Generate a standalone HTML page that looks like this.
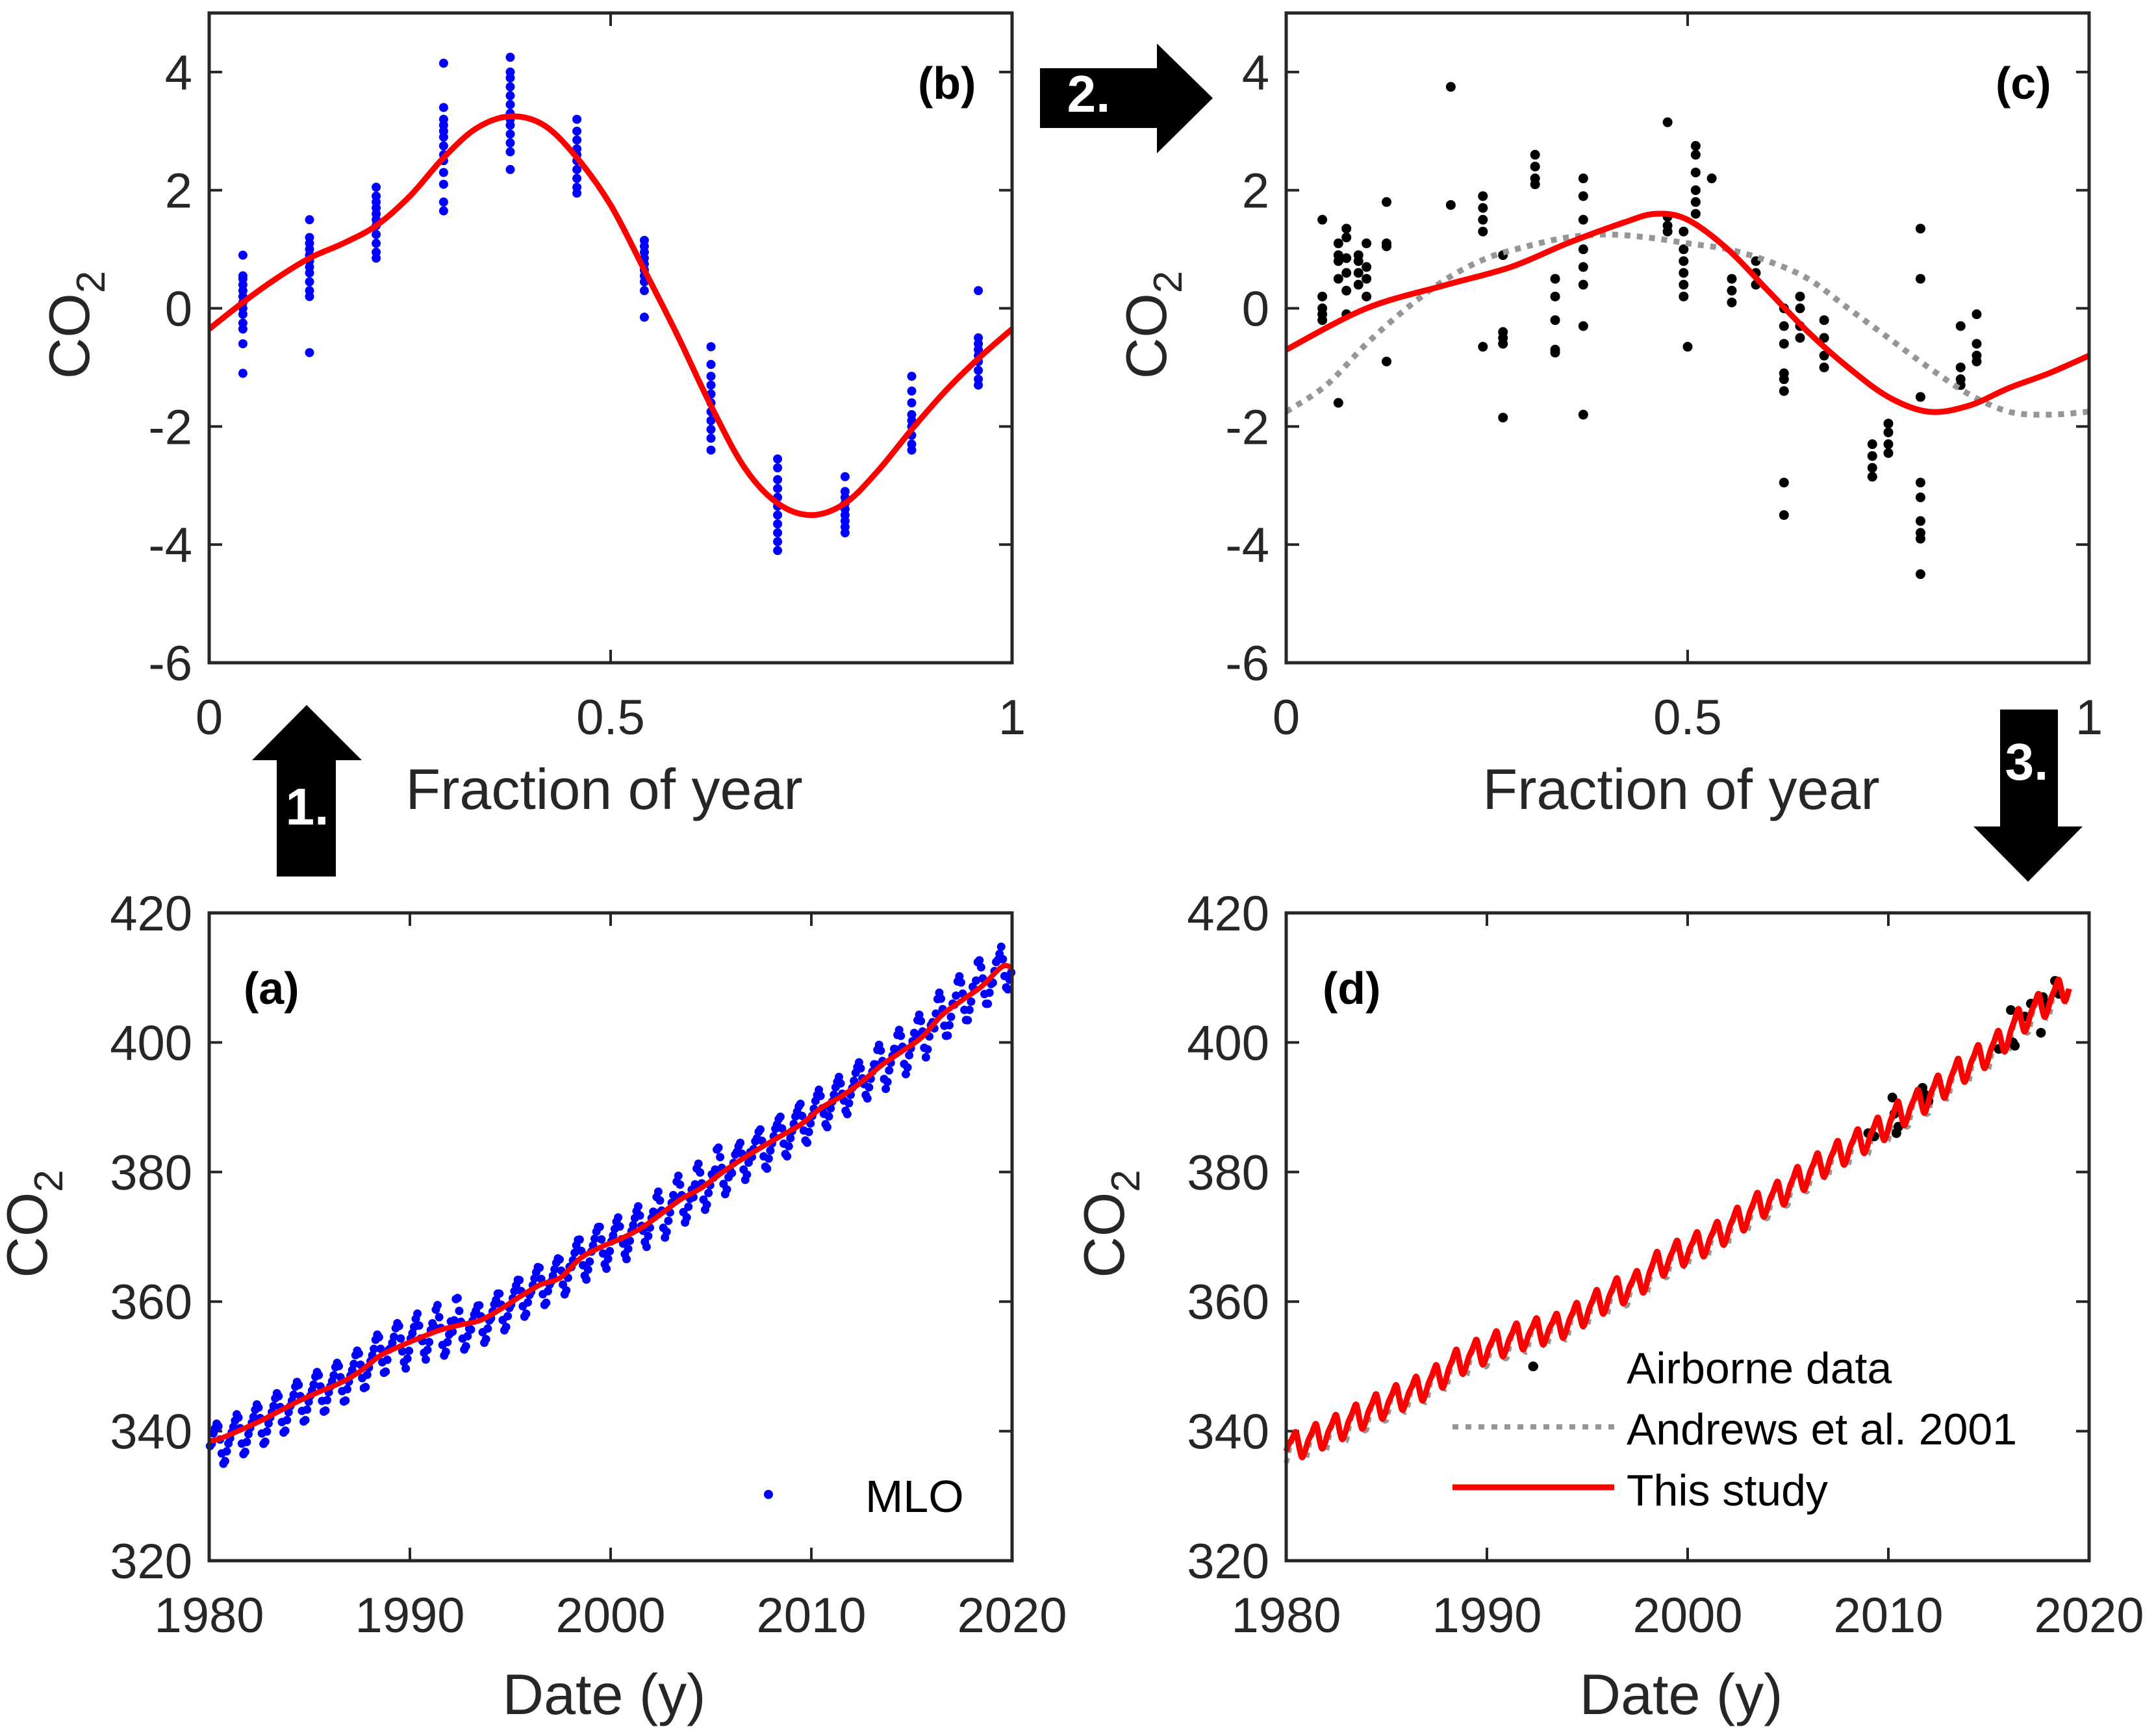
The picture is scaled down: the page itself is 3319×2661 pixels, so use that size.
<!DOCTYPE html>
<html><head><meta charset="utf-8"><title>CO2 seasonal cycle figure</title>
<style>
html,body{margin:0;padding:0;background:#fff;}
svg{display:block;font-family:"Liberation Sans",Arial,sans-serif;}
</style></head>
<body>
<svg id="fig" width="3319" height="2661" viewBox="0 0 3319 2661" xmlns="http://www.w3.org/2000/svg">
  <g>
    <polygon points="472,1085 557,1170 517,1170 517,1349 426,1349 426,1170 388,1170" fill="#000"/>
    <text x="473" y="1269" font-size="80" font-weight="bold" fill="#fff" text-anchor="middle">1.</text>
  </g>
  <g>
    <polygon points="1867,151 1781,67 1781,105 1601,105 1601,197 1781,197 1781,236" fill="#000"/>
    <text x="1676" y="172" font-size="80" font-weight="bold" fill="#fff" text-anchor="middle">2.</text>
  </g>
  <g>
    <polygon points="3122,1357 3206,1272 3168,1272 3168,1092 3079,1092 3079,1272 3038,1272" fill="#000"/>
    <text x="3120" y="1200" font-size="80" font-weight="bold" fill="#fff" text-anchor="middle">3.</text>
  </g>
</svg>
<script>
// ---------------- data ----------------
const monthCenters = [0.042,0.125,0.208,0.292,0.375,0.458,0.542,0.625,0.708,0.792,0.875,0.958];
const mloMonthValues = [
  [-1.1,-0.6,-0.35,-0.25,-0.1,0,0.1,0.2,0.3,0.4,0.5,0.55,0.9],
  [-0.75,0.2,0.3,0.45,0.6,0.7,0.8,0.9,1.0,1.1,1.2,1.5],
  [0.85,0.95,1.1,1.25,1.4,1.5,1.6,1.7,1.8,1.9,2.05],
  [1.65,1.8,2.1,2.3,2.5,2.6,2.75,2.9,3.0,3.1,3.2,3.4,4.15],
  [2.35,2.65,2.8,2.95,3.1,3.2,3.3,3.45,3.6,3.75,3.9,4.0,4.25],
  [1.95,2.05,2.2,2.35,2.5,2.6,2.7,2.85,3.0,3.2],
  [-0.15,0.3,0.45,0.55,0.65,0.75,0.85,0.95,1.05,1.15],
  [-2.4,-2.2,-2.05,-1.9,-1.75,-1.6,-1.45,-1.3,-1.15,-0.95,-0.65],
  [-4.1,-3.95,-3.8,-3.65,-3.5,-3.35,-3.2,-3.05,-2.9,-2.7,-2.55],
  [-3.8,-3.7,-3.6,-3.5,-3.4,-3.3,-3.2,-3.1,-2.85],
  [-2.4,-2.3,-2.15,-2.0,-1.9,-1.8,-1.6,-1.4,-1.15],
  [-1.3,-1.2,-1.05,-0.9,-0.8,-0.7,-0.6,-0.5,0.3]
];
const fitBX = [0,0.042,0.083,0.125,0.167,0.208,0.25,0.292,0.333,0.375,0.417,0.458,0.5,0.542,0.583,0.625,0.667,0.708,0.75,0.792,0.833,0.875,0.917,0.958,1];
const fitBY = [-0.35,0.1,0.5,0.85,1.1,1.4,1.9,2.55,3.05,3.25,3.1,2.55,1.75,0.65,-0.45,-1.65,-2.7,-3.3,-3.5,-3.3,-2.75,-2.05,-1.4,-0.85,-0.35];

const airX = [0.045,0.045,0.045,0.045,0.045,0.065,0.065,0.065,0.065,0.065,0.075,0.075,0.075,0.075,0.075,0.075,0.09,0.09,0.09,0.09,0.1,0.1,0.1,0.1,0.125,0.125,0.125,0.125,0.205,0.205,0.245,0.245,0.245,0.245,0.245,0.27,0.27,0.27,0.27,0.27,0.31,0.31,0.31,0.31,0.335,0.335,0.335,0.335,0.335,0.37,0.37,0.37,0.37,0.37,0.37,0.37,0.37,0.475,0.475,0.475,0.475,0.495,0.495,0.495,0.495,0.495,0.495,0.5,0.51,0.51,0.51,0.51,0.51,0.51,0.53,0.555,0.555,0.555,0.585,0.585,0.585,0.62,0.62,0.62,0.62,0.62,0.62,0.62,0.62,0.64,0.64,0.64,0.64,0.67,0.67,0.67,0.67,0.73,0.73,0.73,0.73,0.75,0.75,0.75,0.75,0.79,0.79,0.79,0.79,0.79,0.79,0.79,0.79,0.79,0.84,0.84,0.84,0.84,0.86,0.86,0.86,0.86];
const airY = [1.5,0.2,0.0,-0.2,-0.1,0.9,1.1,0.8,0.5,-1.6,1.35,1.2,0.85,0.6,0.3,-0.1,0.9,0.6,0.4,0.8,1.1,0.7,0.5,0.2,1.8,1.1,1.05,-0.9,3.75,1.75,1.9,1.7,1.5,1.3,-0.65,0.9,-0.4,-0.5,-0.6,-1.85,2.6,2.4,2.2,2.1,0.5,0.2,-0.2,-0.7,-0.75,2.2,1.9,1.5,1.0,0.7,0.4,-0.3,-1.8,3.15,1.55,1.4,1.3,1.3,1.0,0.8,0.6,0.4,0.2,-0.65,2.75,2.6,2.3,2.0,1.8,1.6,2.2,0.5,0.3,0.1,0.8,0.6,0.4,-0.3,-0.6,-1.1,-1.2,-1.4,-2.95,-3.5,0.0,0.2,0.0,-0.3,-0.5,-0.2,-0.5,-0.8,-1.0,-2.3,-2.5,-2.7,-2.85,-1.95,-2.1,-2.3,-2.45,1.35,0.5,-1.5,-2.95,-3.2,-3.6,-3.8,-3.9,-4.5,-0.3,-1.0,-1.2,-1.3,-0.1,-0.6,-0.8,-0.9];
const fitCX = [0,0.1,0.2,0.28,0.35,0.42,0.46,0.5,0.55,0.6,0.65,0.7,0.75,0.8,0.85,0.9,0.95,1];
const fitCY = [-0.7,0.0,0.4,0.7,1.1,1.45,1.6,1.5,1.0,0.3,-0.4,-1.0,-1.5,-1.75,-1.65,-1.35,-1.1,-0.8];
const andX = [0,0.05,0.1,0.15,0.2,0.25,0.3,0.35,0.4,0.45,0.5,0.55,0.6,0.65,0.7,0.75,0.8,0.85,0.9,0.95,1];
const andY = [-1.75,-1.3,-0.6,0.0,0.5,0.85,1.05,1.2,1.25,1.2,1.1,1.0,0.8,0.5,0.0,-0.5,-1.0,-1.45,-1.75,-1.8,-1.75];

const years = [1980,1981,1982,1983,1984,1985,1986,1987,1988,1989,1990,1991,1992,1993,1994,1995,1996,1997,1998,1999,2000,2001,2002,2003,2004,2005,2006,2007,2008,2009,2010,2011,2012,2013,2014,2015,2016,2017,2018,2019];
const annualCO2 = [338.8,340.1,341.5,343.1,344.7,346.1,347.4,349.2,351.6,353.1,354.4,355.6,356.4,357.1,358.8,360.8,362.6,363.7,366.7,368.4,369.7,371.3,373.5,375.8,377.5,379.8,381.9,383.8,385.6,387.4,389.9,391.7,393.9,396.5,398.6,400.8,404.2,406.5,408.7,411.7];
const airDateD = [1992.3,2009.0,2009.3,2010.2,2010.3,2010.4,2010.5,2011.7,2011.8,2011.8,2012.0,2015.5,2016.1,2016.2,2016.3,2016.8,2017.1,2017.6,2017.7,2017.9,2018.3,2018.5];
const airCO2D = [350,386,385.5,391.5,389,386,387,393,392,390.5,391,399,405,400,399.5,404,406,401.5,407,406,409.5,407.5];

const yTicksB = [4,2,0,-2,-4,-6];
const xTicksB = [0,0.5,1];
const xTickLabelsB = ['0','0.5','1'];
const yTicksA = [420,400,380,360,340,320];
const xTicksA = [1980,1990,2000,2010,2020];

// ---------------- drawing ----------------
const NS='http://www.w3.org/2000/svg';
const svg=document.getElementById('fig');
function mk(tag,attrs,parent){const e=document.createElementNS(NS,tag);for(const k in attrs)e.setAttribute(k,attrs[k]);(parent||svg).appendChild(e);return e;}
function lin(d0,d1,r0,r1){return v=>r0+(v-d0)/(d1-d0)*(r1-r0);}
function interp(xs,ys,x){if(x<=xs[0])return ys[0];for(let i=1;i<xs.length;i++){if(x<=xs[i]){const t=(x-xs[i-1])/(xs[i]-xs[i-1]);return ys[i-1]+t*(ys[i]-ys[i-1]);}}return ys[ys.length-1];}
function smoothPath(pts){let d='M'+pts[0][0].toFixed(1)+','+pts[0][1].toFixed(1);for(let i=0;i<pts.length-1;i++){const p0=pts[i-1]||pts[i],p1=pts[i],p2=pts[i+1],p3=pts[i+2]||p2;const c1=[p1[0]+(p2[0]-p0[0])/6,p1[1]+(p2[1]-p0[1])/6],c2=[p2[0]-(p3[0]-p1[0])/6,p2[1]-(p3[1]-p1[1])/6];d+='C'+c1[0].toFixed(1)+','+c1[1].toFixed(1)+' '+c2[0].toFixed(1)+','+c2[1].toFixed(1)+' '+p2[0].toFixed(1)+','+p2[1].toFixed(1);}return d;}

const panels={
  b:{l:322,r:1558,t:20,b:1020,x0:0,x1:1,y0:-6,y1:5},
  c:{l:1980,r:3216,t:20,b:1020,x0:0,x1:1,y0:-6,y1:5},
  a:{l:322,r:1558,t:1405,b:2402,x0:1980,x1:2020,y0:320,y1:420},
  d:{l:1980,r:3216,t:1405,b:2402,x0:1980,x1:2020,y0:320,y1:420}
};
for(const k in panels){const p=panels[k];p.sx=lin(p.x0,p.x1,p.l,p.r);p.sy=lin(p.y0,p.y1,p.b,p.t);}

function axes(p,name,xt,xl,yt,xlabel,letter,ylOff){
  const g=mk('g',{});
  
  
  const TL=20;
  yt.forEach(v=>{const y=p.sy(v);
    mk('line',{x1:p.l,x2:p.l+TL,y1:y,y2:y,stroke:'#262626','stroke-width':4},g);
    mk('line',{x1:p.r,x2:p.r-TL,y1:y,y2:y,stroke:'#262626','stroke-width':4},g);
    const t=mk('text',{x:p.l-26,y:y+27,'font-size':76,fill:'#262626','text-anchor':'end'},g);
    
    
    t.textContent=String(v);});
  xt.forEach((v,i)=>{const x=p.sx(v);
    mk('line',{x1:x,x2:x,y1:p.b,y2:p.b-TL,stroke:'#262626','stroke-width':4},g);
    mk('line',{x1:x,x2:x,y1:p.t,y2:p.t+TL,stroke:'#262626','stroke-width':4},g);
    const t=mk('text',{x:x,y:p.b+110,'font-size':76,fill:'#262626','text-anchor':'middle'},g);
    
    
    t.textContent=xl[i];});
  const xa=mk('text',{x:(p.l+p.r)/2-10,y:p.b+(p.b>2000?236:225),'font-size':88,fill:'#262626','text-anchor':'middle'},g);
  
  
  xa.textContent=xlabel;
  const cy=(p.t+p.b)/2-20;
  const ya=mk('text',{x:0,y:0,'font-size':88,fill:'#262626','text-anchor':'middle',transform:'translate('+(p.l-ylOff)+','+cy+') rotate(-90)'},g);
  
  
  ya.appendChild(document.createTextNode('CO'));
  const sub=mk('tspan',{'font-size':62,dy:24},ya);sub.textContent='2';
  const pl=mk('text',{x:letter.x,y:letter.y,'font-size':70,'font-weight':'bold',fill:'#000'},g);
  
  
  pl.textContent=letter.t;
  return g;
}
function frame(p){const r=mk('rect',{x:p.l,y:p.t,width:p.r-p.l,height:p.b-p.t,fill:'none',stroke:'#262626','stroke-width':5});}

// ---- Panel b ----
(function(){const p=panels.b;
  axes(p,'panel-b',xTicksB,xTickLabelsB,yTicksB,'Fraction of year',{x:1413,y:152,t:'(b)'},185);
  const g=mk('g',{});
  monthCenters.forEach((m,i)=>mloMonthValues[i].forEach(v=>{const c=mk('circle',{cx:p.sx(m),cy:p.sy(v),r:7,fill:'#0000ff'},g);}));
  const pts=fitBX.map((x,i)=>[p.sx(x),p.sy(fitBY[i])]);
  const path=mk('path',{d:smoothPath(pts),fill:'none',stroke:'#ff0000','stroke-width':9,'stroke-linejoin':'round'});
  
  frame(p);
})();

// ---- Panel c ----
(function(){const p=panels.c;
  axes(p,'panel-c',xTicksB,xTickLabelsB,yTicksB,'Fraction of year',{x:3072,y:152,t:'(c)'},185);
  const g=mk('g',{});
  airX.forEach((x,i)=>{const c=mk('circle',{cx:p.sx(x),cy:p.sy(airY[i]),r:7.5,fill:'#000'},g);});
  const ap=mk('path',{d:smoothPath(andX.map((x,i)=>[p.sx(x),p.sy(andY[i])])),fill:'none',stroke:'#969696','stroke-width':9,'stroke-dasharray':'9 10'});
  
  const rp=mk('path',{d:smoothPath(fitCX.map((x,i)=>[p.sx(x),p.sy(fitCY[i])])),fill:'none',stroke:'#ff0000','stroke-width':9});
  
  frame(p);
})();

function trendAt(t){return interp(years.map(y=>y+0.5),annualCO2,t);}

// ---- Panel a ----
(function(){const p=panels.a;
  axes(p,'panel-a',xTicksA,xTicksA.map(String),yTicksA,'Date (y)',{x:375,y:1545,t:'(a)'},250);
  const g=mk('g',{});
  years.forEach(y=>monthCenters.forEach((m,i)=>{const t=y+m;if(t>2020)return;
    const vals=mloMonthValues[i];const v=vals[(y-1980)%vals.length];
    const c=mk('circle',{cx:p.sx(t),cy:p.sy(trendAt(t)+v),r:6.5,fill:'#0000ff'},g);
    }));
  const pts=[[p.sx(1980),p.sy(annualCO2[0]-0.3)]].concat(years.map((y,i)=>[p.sx(y+0.5),p.sy(annualCO2[i])])).concat([[p.sx(2020),p.sy(411.5)]]);
  const path=mk('path',{d:smoothPath(pts),fill:'none',stroke:'#ff0000','stroke-width':8});
  
  const lg=mk('g',{});
  mk('circle',{cx:1183,cy:2300,r:7,fill:'#0000ff'},lg);
  const lt=mk('text',{x:1332,y:2327,'font-size':70,fill:'#000'},lg);lt.textContent='MLO';
  
  frame(p);
})();

// ---- Panel d ----
(function(){const p=panels.d;
  axes(p,'panel-d',xTicksA,xTicksA.map(String),yTicksA,'Date (y)',{x:2036,y:1545,t:'(d)'},250);
  const ts=[];for(let y=0;y<years.length;y++)for(let m=0;m<24;m++){const t=years[y]+m/24;if(t<=2019.0)ts.push(t);}
  const gp=ts.map(t=>[p.sx(t),p.sy(trendAt(t)+1.2*interp(andX,andY,t-Math.floor(t))-1.6)]);
  const ap=mk('path',{d:smoothPath(gp),fill:'none',stroke:'#969696','stroke-width':8,'stroke-dasharray':'8 8'});
  
  const g=mk('g',{});
  airDateD.forEach((t,i)=>{const c=mk('circle',{cx:p.sx(t),cy:p.sy(airCO2D[i]),r:7.5,fill:'#000'},g);});
  const rp=ts.map(t=>[p.sx(t),p.sy(trendAt(t)+1.3*interp(fitCX,fitCY,t-Math.floor(t))-1.0)]);
  const rpath=mk('path',{d:smoothPath(rp),fill:'none',stroke:'#ff0000','stroke-width':9});
  
  const lg=mk('g',{});
  mk('circle',{cx:2361,cy:2103,r:7,fill:'#000'},lg);
  mk('line',{x1:2236,x2:2485,y1:2196,y2:2196,stroke:'#969696','stroke-width':8,'stroke-dasharray':'9 11'},lg);
  mk('line',{x1:2236,x2:2485,y1:2289,y2:2289,stroke:'#ff0000','stroke-width':9},lg);
  const labels=['Airborne data','Andrews et al. 2001','This study'];const bys=[2129,2223,2317];
  labels.forEach((s,i)=>{const t=mk('text',{x:2504,y:bys[i],'font-size':68,fill:'#000'},lg);t.textContent=s;
    });
  frame(p);
})();
</script>
</body></html>
